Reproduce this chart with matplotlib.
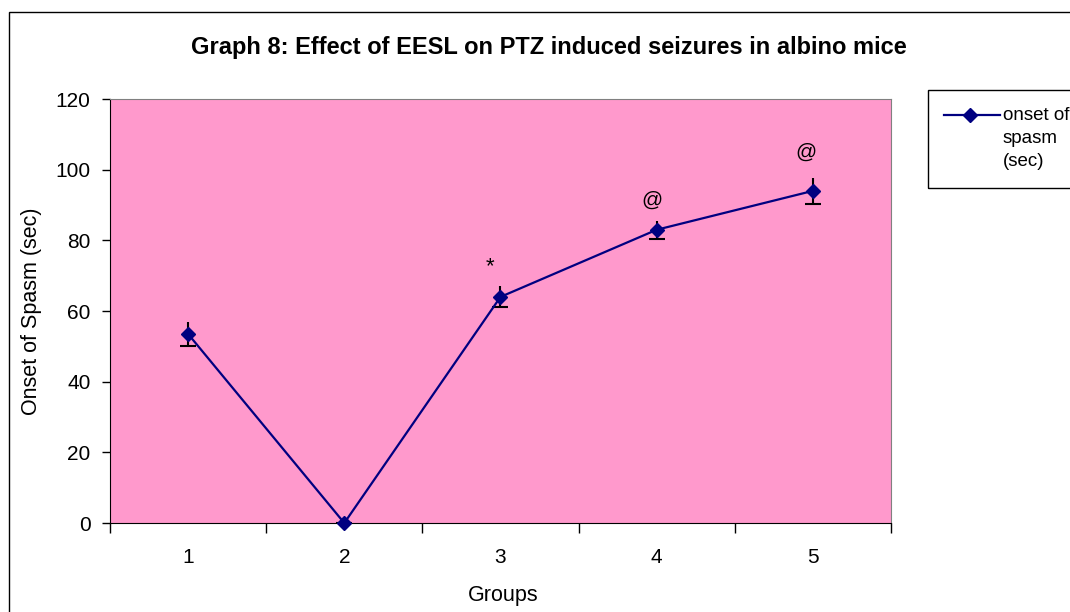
import matplotlib.pyplot as plt
from matplotlib.patches import Rectangle
from matplotlib.lines import Line2D

plt.rcParams['font.family'] = ['Liberation Sans', 'DejaVu Sans']

# data
groups = [1, 2, 3, 4, 5]
onset = [53.5, 0, 64, 83, 94]
sem = [3.5, 0, 3.0, 2.6, 3.6]
marks = ['', '', '*', '@', '@']
mark_y = [0, 0, 72.5, 91.4, 105]
mark_dx = [0, 0, -0.07, -0.03, -0.045]

fig = plt.figure(figsize=(10.7, 6.12), dpi=100)
ax = fig.add_axes([0.1028, 0.1454, 0.7299, 0.6928])
ax.set_facecolor('#FF99CC')

# error bars, cap only on the lower end
eb = ax.errorbar(groups, onset, yerr=sem, fmt='none', ecolor='black',
                 elinewidth=1.5, capsize=6, capthick=1.5, zorder=2)
eb[1][1].set_visible(False)

ax.plot(groups, onset, color='#000080', lw=1.6, marker='D', markersize=7.5,
        zorder=3, clip_on=False)

for g, m, my, dx in zip(groups, marks, mark_y, mark_dx):
    if m:
        ax.text(g + dx, my, m, ha='center', va='center', fontsize=15 if m == '@' else 16)

ax.set_xlim(0.5, 5.5)
ax.set_ylim(0, 120)
ax.set_yticks(range(0, 121, 20))
ax.set_xticks(groups)
ax.set_xticks([0.5, 1.5, 2.5, 3.5, 4.5, 5.5], minor=True)
ax.tick_params(axis='x', which='major', length=0, pad=18, labelsize=15)
ax.tick_params(axis='x', which='minor', length=7, width=1)
ax.tick_params(axis='y', length=6, width=1, labelsize=15, pad=8)

for s in ['top', 'right']:
    ax.spines[s].set_color('#808080')
for s in ['left', 'bottom']:
    ax.spines[s].set_color('black')

ax.set_xlabel('Groups', fontsize=15.5, va='center')
ax.xaxis.set_label_coords(0.503, -0.172)
ax.set_ylabel('Onset of Spasm (sec)', fontsize=15.5, va='center')
ax.yaxis.set_label_coords(-0.1, 0.5)
fig.text(0.5126, 0.923, 'Graph 8: Effect of EESL on PTZ induced seizures in albino mice',
         ha='center', va='center', fontsize=17, fontweight='bold')

# legend box drawn by hand, it runs off the right edge like the original
W, H = 1070.0, 612.0
fig.patches.append(Rectangle((928 / W, 1 - 188 / H), 160 / W, 98 / H,
                             transform=fig.transFigure, fill=False,
                             edgecolor='black', lw=1))
fig.lines.append(Line2D([944 / W, 1000 / W], [1 - 115 / H, 1 - 115 / H],
                        transform=fig.transFigure, color='#000080', lw=1.6))
fig.lines.append(Line2D([970 / W], [1 - 115 / H], transform=fig.transFigure,
                        color='#000080', marker='D', markersize=7.5))
fig.text(1003 / W, 1 - 107 / H, 'onset of\nspasm\n(sec)', ha='left', va='top',
         fontsize=13.5, linespacing=1.45)

# outer chart border (bottom and right edges fall outside the picture)
fig.patches.append(Rectangle((9 / W, -0.1), 1.1, 1.1 - 12 / H, transform=fig.transFigure,
                             fill=False, edgecolor='black', lw=1))

fig.savefig('out.png', dpi=100)
